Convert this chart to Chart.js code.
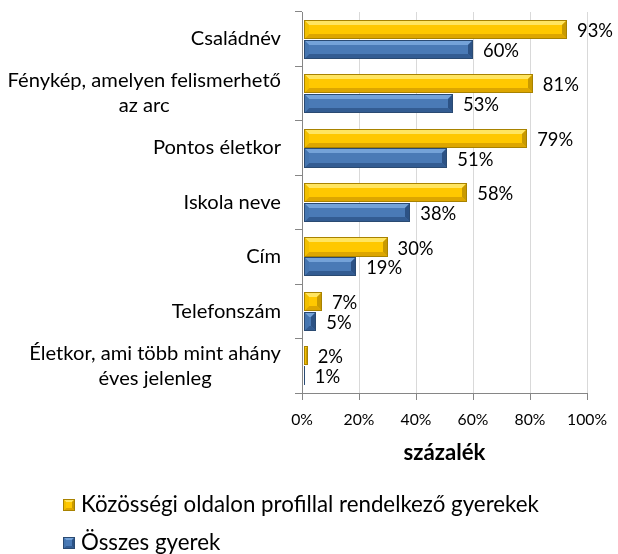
<!DOCTYPE html>
<html><head><meta charset="utf-8">
<script src="https://cdn.jsdelivr.net/npm/chart.js@4"></script>
<style>
body{margin:0;background:#fff;}
</style></head><body>
<canvas id="c" width="618" height="554"></canvas>
<script>
const categories = [['Családnév'], ['Fénykép, amelyen felismerhető','az arc'], ['Pontos életkor'], ['Iskola neve'], ['Cím'], ['Telefonszám'], ['Életkor, ami több mint ahány','éves jelenleg']];
const seriesNames = ['Közösségi oldalon profillal rendelkező gyerekek','Összes gyerek'];
const profileValues = [93, 81, 79, 58, 30, 7, 2];
const allValues = [60, 53, 51, 38, 19, 5, 1];
const xTickValues = [0, 20, 40, 60, 80, 100];
const axisTitle = 'százalék';

const FONT = 'Lato';
const mctx = document.createElement('canvas').getContext('2d');
function fitSize(text, target, weight){ mctx.font=(weight||'normal')+' 100px '+FONT; return 100*target/mctx.measureText(text).width; }
const catSize = fitSize('Életkor, ami több mint ahány', 252);
const valSize = fitSize('93%', 36);
const tickSize = fitSize('100%', 40);
const titleSize = fitSize(axisTitle, 82, 'bold');
const legendSize = fitSize(seriesNames[0], 458);

const palettes = [
  {face:'#FFC800', top:'#FFE561', bottom:'#DDA600', right:'#C99A00', left:'#F2C000', edge:'#A88200'},
  {face:'#4A7AB6', top:'#74A2D8', bottom:'#335C92', right:'#2C5285', left:'#4676B0', edge:'#2A4A72'}
];

function poly(ctx, pts, col){ctx.beginPath();ctx.moveTo(pts[0][0],pts[0][1]);for(let i=1;i<pts.length;i++)ctx.lineTo(pts[i][0],pts[i][1]);ctx.closePath();ctx.fillStyle=col;ctx.fill();}
function bevel(ctx,L,R,T,B,c,maxB){
  if(R-L<1)return;
  const b=Math.min(maxB,(R-L)/2,(B-T)/2);
  ctx.fillStyle=c.face;ctx.fillRect(L,T,R-L,B-T);
  poly(ctx,[[L,T],[R,T],[R-b,T+b],[L+b,T+b]],c.top);
  poly(ctx,[[L,B],[R,B],[R-b,B-b],[L+b,B-b]],c.bottom);
  poly(ctx,[[R,T],[R,B],[R-b,B-b],[R-b,T+b]],c.right);
  poly(ctx,[[L,T],[L,B],[L+b,B-b],[L+b,T+b]],c.left);
  ctx.strokeStyle=c.edge;ctx.lineWidth=1;ctx.strokeRect(L+0.5,T+0.5,R-L-1,B-T-1);
}

const drawPlugin = {
  id:'customDraw',
  afterDatasetsDraw(chart){
    const ctx=chart.ctx;
    ctx.save();
    chart.data.datasets.forEach((ds,di)=>{
      const meta=chart.getDatasetMeta(di);
      meta.data.forEach((el,i)=>{
        const p=el.getProps(['x','y','base','height'],true);
        const L=Math.min(p.base,p.x), R=Math.max(p.base,p.x);
        const T=Math.round(p.y-p.height/2), B=Math.round(p.y+p.height/2);
        bevel(ctx,Math.round(L)+1,Math.round(R),T,B,palettes[di],5);
        ctx.fillStyle='#000';
        ctx.font=valSize+'px '+FONT;
        ctx.textAlign='left';ctx.textBaseline='alphabetic';
        ctx.fillText(ds.data[i]+'%',R+10,p.y+1+0.36*valSize);
      });
    });
    ctx.restore();
  },
  afterDraw(chart){
    const ctx=chart.ctx;
    ctx.save();
    ctx.fillStyle='#000';ctx.textBaseline='alphabetic';
    const ys=chart.scales.y;
    ctx.font=catSize+'px '+FONT;ctx.textAlign='center';
    const rightX=281, lh=25;
    categories.forEach((lines,i)=>{
      const cy=ys.getPixelForTick(i);
      const w=Math.max(...lines.map(l=>ctx.measureText(l).width));
      const cx=rightX-w/2;
      lines.forEach((l,k)=>{ctx.fillText(l,cx,cy+0.36*catSize-1+(k-(lines.length-1)/2)*lh);});
    });
    const xs=chart.scales.x;
    ctx.font=tickSize+'px '+FONT;ctx.textAlign='center';
    xTickValues.forEach(v=>{ctx.fillText(v+'%',xs.getPixelForValue(v),425);});
    ctx.font='bold '+titleSize+'px '+FONT;
    ctx.fillText(axisTitle,(chart.chartArea.left+chart.chartArea.right)/2,460);
    ctx.font=legendSize+'px '+FONT;ctx.textAlign='left';
    seriesNames.forEach((n,i)=>{
      const by=499+i*38;
      bevel(ctx,63,75,by,by+12,palettes[i],3);
      ctx.fillStyle='#000';
      ctx.fillText(n,81,by+13);
    });
    ctx.restore();
  }
};

new Chart(document.getElementById('c'),{
  type:'bar',
  data:{labels:categories,datasets:[
    {label:seriesNames[0],data:profileValues,backgroundColor:'rgba(0,0,0,0)',borderWidth:0},
    {label:seriesNames[1],data:allValues,backgroundColor:'rgba(0,0,0,0)',borderWidth:0}
  ]},
  options:{
    indexAxis:'y',responsive:false,animation:false,
    categoryPercentage:0.73,barPercentage:0.97,
    layout:{padding:{left:0,right:31,top:12,bottom:141}},
    plugins:{legend:{display:false},tooltip:{enabled:false}},
    scales:{
      x:{min:0,max:100,
        afterBuildTicks(s){s.ticks=xTickValues.map(v=>({value:v}));},
        afterFit(s){s.height=20;},
        ticks:{display:false},
        grid:{color:'#D9D9D9',tickColor:'#868686',tickLength:7},
        border:{color:'#868686'}
      },
      y:{
        afterFit(s){s.width=302;},
        ticks:{display:false},
        grid:{drawOnChartArea:false,color:'#868686',tickLength:7,offset:true},
        border:{color:'#868686'}
      }
    }
  },
  plugins:[drawPlugin]
});
</script></body></html>
